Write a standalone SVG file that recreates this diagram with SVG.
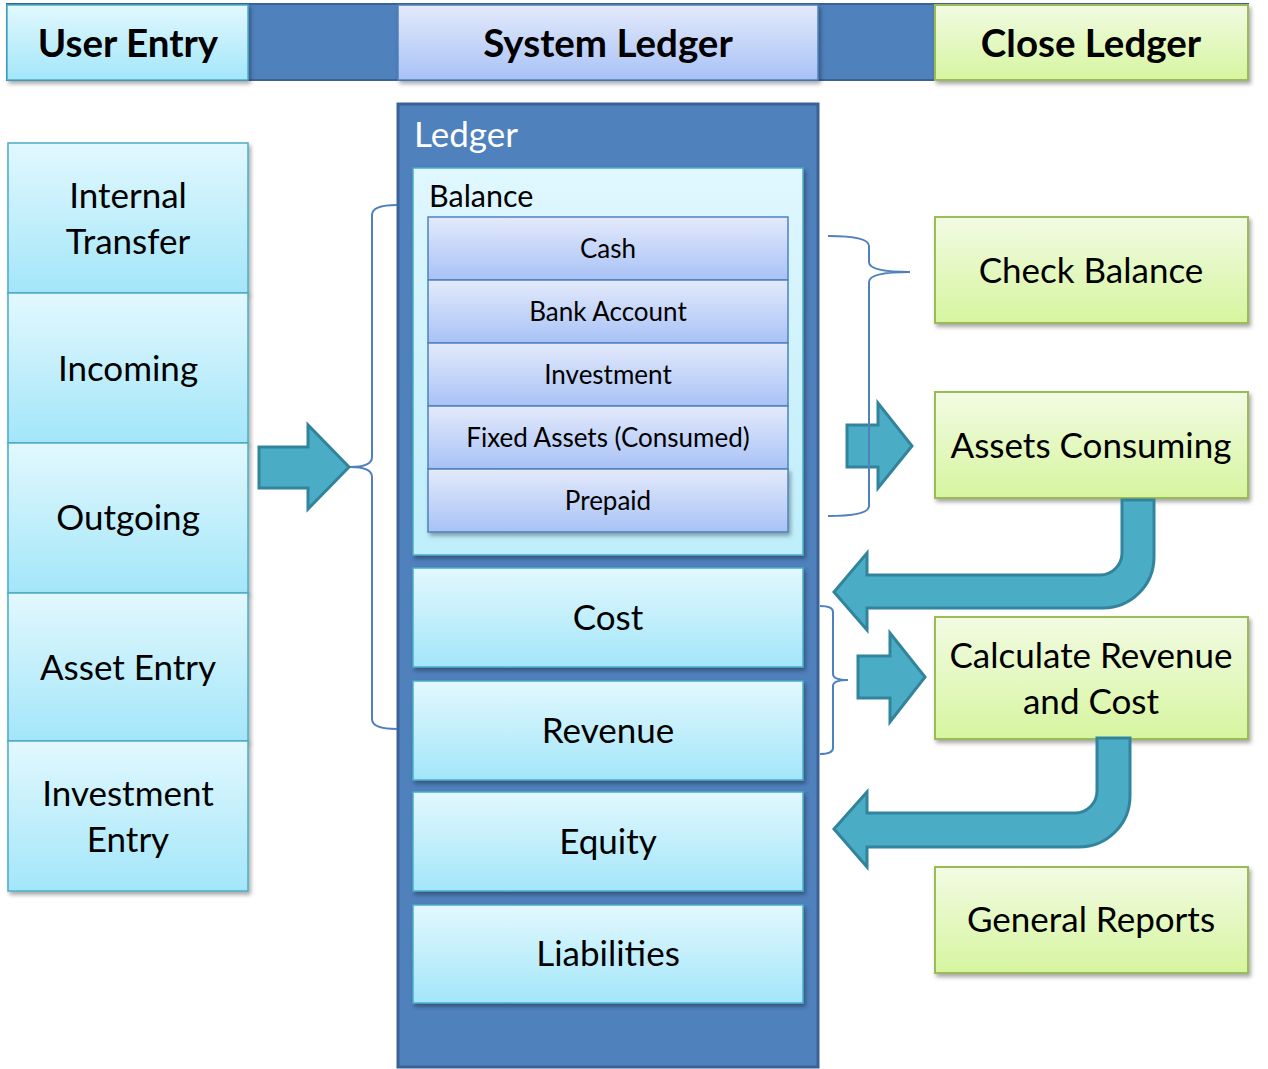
<svg xmlns="http://www.w3.org/2000/svg" width="1268" height="1069" viewBox="0 0 1268 1069">
<defs>
<linearGradient id="gCyan" x1="0" y1="0" x2="0" y2="1"><stop offset="0" stop-color="#E2F8FE"/><stop offset="1" stop-color="#A3E6F9"/></linearGradient>
<linearGradient id="gBal" x1="0" y1="0" x2="0" y2="1"><stop offset="0" stop-color="#E0F7FE"/><stop offset="1" stop-color="#BDEEFA"/></linearGradient>
<linearGradient id="gLav" x1="0" y1="0" x2="0" y2="1"><stop offset="0" stop-color="#E4EAFB"/><stop offset="1" stop-color="#A8C2F6"/></linearGradient>
<linearGradient id="gGreen" x1="0" y1="0" x2="0" y2="1"><stop offset="0" stop-color="#F2FBE3"/><stop offset="1" stop-color="#D6F59F"/></linearGradient>
<filter id="sh" x="-10%" y="-10%" width="125%" height="130%"><feDropShadow dx="2" dy="3" stdDeviation="2" flood-color="#000" flood-opacity="0.35"/></filter>
</defs>
<style>
.cyan{fill:url(#gCyan);stroke:#4BACC6;stroke-width:1.5}
.lav{fill:url(#gLav);stroke:#4F81BD;stroke-width:1.5}
.green{fill:url(#gGreen);stroke:#9BBB59;stroke-width:2}
.t{font-family:Lato,"Open Sans","DejaVu Sans",sans-serif;fill:#000;text-anchor:middle}
.h{font-family:Lato,"Open Sans","DejaVu Sans",sans-serif;font-weight:bold;font-size:38.5px;text-anchor:middle;fill:#000}
.l{font-size:35px}
.s{font-size:26px}
.arrow{fill:#4BACC6;stroke:#31849B;stroke-width:3;stroke-linejoin:miter}
.brace{fill:none;stroke:#4F81BD;stroke-width:2}
</style>
<rect width="1268" height="1069" fill="#fff"/>

<g id="header-band"><rect x="7" y="4" width="1241" height="76" fill="#4F81BD" stroke="#3A6296" stroke-width="2"/></g>
<g id="user-entry"><rect class="cyan" x="7" y="5" width="241" height="75" filter="url(#sh)"/><text class="h" x="128" y="57">User Entry</text></g>
<g id="system-ledger"><rect class="lav" x="398" y="5" width="420" height="75" filter="url(#sh)"/><text class="h" x="608" y="57">System Ledger</text></g>
<g id="close-ledger"><rect class="green" x="935" y="5" width="313" height="75" filter="url(#sh)"/><text class="h" x="1091" y="57">Close Ledger</text></g>

<g id="internal-transfer"><rect class="cyan" x="8" y="143" width="240" height="150" filter="url(#sh)"/><text class="t l" x="128" y="208">Internal</text><text class="t l" x="128" y="254">Transfer</text></g>
<g id="incoming"><rect class="cyan" x="8" y="293" width="240" height="150" filter="url(#sh)"/><text class="t l" x="128" y="381">Incoming</text></g>
<g id="outgoing"><rect class="cyan" x="8" y="443" width="240" height="150" filter="url(#sh)"/><text class="t l" x="128" y="530">Outgoing</text></g>
<g id="asset-entry"><rect class="cyan" x="8" y="593" width="240" height="148" filter="url(#sh)"/><text class="t l" x="128" y="680">Asset Entry</text></g>
<g id="investment-entry"><rect class="cyan" x="8" y="741" width="240" height="150" filter="url(#sh)"/><text class="t l" x="128" y="806">Investment</text><text class="t l" x="128" y="852">Entry</text></g>

<g id="ledger"><rect x="398" y="104" width="420" height="963" fill="#4F81BD" stroke="#3A6296" stroke-width="3"/><text x="414" y="147" font-family="Lato,'Open Sans',sans-serif" font-size="35" fill="#fff">Ledger</text></g>
<g id="balance"><rect x="413" y="168" width="390" height="387" fill="url(#gBal)" stroke="#4BACC6" stroke-width="1.5" filter="url(#sh)"/><text x="429" y="207" font-family="Lato,'Open Sans',sans-serif" font-size="30.5" fill="#000">Balance</text></g>
<g id="cash"><rect class="lav" x="428" y="217" width="360" height="63"/><text class="t s" x="608" y="258">Cash</text></g>
<g id="bank-account"><rect class="lav" x="428" y="280" width="360" height="63"/><text class="t s" x="608" y="321">Bank Account</text></g>
<g id="investment"><rect class="lav" x="428" y="343" width="360" height="63"/><text class="t s" x="608" y="384">Investment</text></g>
<g id="fixed-assets"><rect class="lav" x="428" y="406" width="360" height="63"/><text class="t s" x="608" y="447">Fixed Assets (Consumed)</text></g>
<g id="prepaid"><rect class="lav" x="428" y="469" width="360" height="63" filter="url(#sh)"/><text class="t s" x="608" y="510">Prepaid</text></g>
<g id="cost"><rect class="cyan" x="413" y="568" width="390" height="99" filter="url(#sh)"/><text class="t l" x="608" y="630">Cost</text></g>
<g id="revenue"><rect class="cyan" x="413" y="681" width="390" height="99" filter="url(#sh)"/><text class="t l" x="608" y="743">Revenue</text></g>
<g id="equity"><rect class="cyan" x="413" y="792" width="390" height="99" filter="url(#sh)"/><text class="t l" x="608" y="854">Equity</text></g>
<g id="liabilities"><rect class="cyan" x="413" y="905" width="390" height="98" filter="url(#sh)"/><text class="t l" x="608" y="966">Liabilities</text></g>

<g id="check-balance"><rect class="green" x="935" y="217" width="313" height="106" filter="url(#sh)"/><text class="t l" x="1091" y="283">Check Balance</text></g>
<g id="assets-consuming"><rect class="green" x="935" y="392" width="313" height="106" filter="url(#sh)"/><text class="t l" x="1091" y="458">Assets Consuming</text></g>
<g id="calculate-revenue-cost"><rect class="green" x="935" y="617" width="313" height="122" filter="url(#sh)"/><text class="t l" x="1091" y="668">Calculate Revenue</text><text class="t l" x="1091" y="714">and Cost</text></g>
<g id="general-reports"><rect class="green" x="935" y="867" width="313" height="106" filter="url(#sh)"/><text class="t l" x="1091" y="932">General Reports</text></g>

<g id="connectors">
<path class="brace" d="M397,205 Q372,205 372,215 L372,457 Q372,467 350,467 Q372,467 372,477 L372,719 Q372,729 397,729"/>
<path class="arrow" d="M259,447 L308,447 L308,425 L349,467 L308,509 L308,488 L259,488 Z"/>
<path class="arrow" d="M847,425 L878,425 L878,403 L912,446 L878,488 L878,467 L847,467 Z"/>
<path class="brace" d="M828,236 Q869,236 869,246 L869,262 Q869,272 910,272 Q869,272 869,282 L869,506 Q869,516 828,516"/>
<path class="brace" d="M820,606 Q833,606 833,612 L833,674 Q833,680 848,680 Q833,680 833,686 L833,748 Q833,754 820,754"/>
<path class="arrow" d="M858,656 L890,656 L890,633 L925,677 L890,722 L890,698 L858,698 Z"/>
<path class="arrow" d="M1154,500 L1154,557 A51,51 0 0 1 1103,608 L867,608 L867,630 L834,592 L867,553 L867,575 L1100,575 A22,22 0 0 0 1122,553 L1122,500 Z"/>
<path class="arrow" d="M1130,738 L1130,796 A51,51 0 0 1 1079,847 L867,847 L867,867 L834,829 L867,792 L867,813 L1075,813 A22,22 0 0 0 1097,791 L1097,738 Z"/>
</g>
</svg>
